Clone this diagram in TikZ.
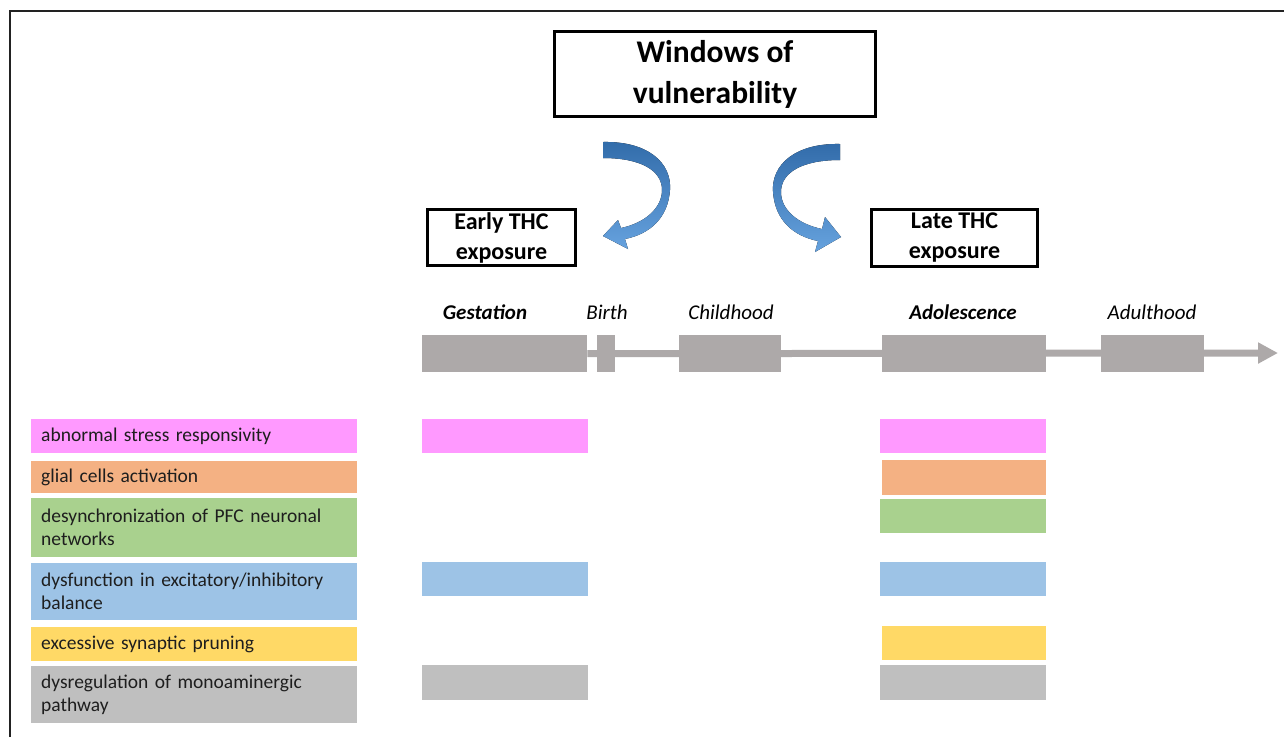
\documentclass[tikz,border=0pt]{standalone}
\usepackage{fontspec}
\setmainfont{Carlito}
\usetikzlibrary{arrows.meta}
\definecolor{framecol}{RGB}{34,34,34}
\definecolor{tlgray}{RGB}{173,169,169}
\definecolor{cpink}{RGB}{255,153,255}
\definecolor{corange}{RGB}{244,177,131}
\definecolor{cgreen}{RGB}{169,209,142}
\definecolor{cblue}{RGB}{157,195,230}
\definecolor{cyellow}{RGB}{255,217,102}
\definecolor{cgray}{RGB}{191,191,191}
\definecolor{arrowdark}{RGB}{50,108,170}
\definecolor{arrowlight}{RGB}{102,162,222}
\definecolor{textcol}{RGB}{30,30,30}
\begin{document}
\begin{tikzpicture}[x=1pt,y=-1pt,
  titlebox/.style={draw=black, line width=3pt, align=center, inner sep=0pt},
  tlbox/.style={fill=tlgray, anchor=north west, inner sep=0pt, minimum height=37pt},
  tllabel/.style={anchor=base, inner sep=0pt, font=\itshape\fontsize{21}{25}\selectfont},
  legbox/.style={anchor=north west, minimum width=326pt, text width=306pt, inner xsep=10pt, inner ysep=0pt, align=left, text=textcol, font=\fontsize{19.5}{23}\selectfont},
  bar/.style={anchor=north west, inner sep=0pt}
]
\useasboundingbox (0,0) rectangle (1285,737);
\fill[white] (0,0) rectangle (1285,737);
% frame
\draw[line width=2.5pt, color=framecol] (10,737) -- (10,11) -- (1284,11);

% title boxes
\node[titlebox, minimum width=321pt, minimum height=85pt, font=\bfseries\fontsize{31.5}{41}\selectfont] (win) at (715,74) {Windows of\\vulnerability};
\node[titlebox, minimum width=148pt, minimum height=56pt, font=\bfseries\fontsize{24}{30}\selectfont] (early) at (501.5,237.5) {Early THC\\exposure};
\node[titlebox, minimum width=166pt, minimum height=57pt, font=\bfseries\fontsize{24}{30}\selectfont] (late) at (954.5,238) {Late THC\\exposure};

% curved arrows
\fill[top color=arrowdark, bottom color=arrowlight]
  (603,142) .. controls (648,141) and (672,163) .. (670,190)
  .. controls (668,218) and (650,234) .. (625,239)
  -- (628,249) -- (603,236) -- (618,220) -- (621,228)
  .. controls (645,223) and (662,208) .. (662,190)
  .. controls (662,170) and (640,158) .. (603,158) -- cycle;
\fill[top color=arrowdark, bottom color=arrowlight]
  (840,144) .. controls (795,143) and (771,165) .. (773,192)
  .. controls (775,220) and (793,236) .. (818,241)
  -- (815,252) -- (841,237) -- (825,217) -- (822,229)
  .. controls (798,224) and (781,210) .. (781,192)
  .. controls (781,172) and (803,160) .. (840,160) -- cycle;

% timeline
\node[tlbox, minimum width=165pt] (gest) at (422,335) {};
\node[tlbox, minimum width=18pt] (birth) at (597,335) {};
\node[tlbox, minimum width=102pt] (child) at (679,335) {};
\node[tlbox, minimum width=164pt] (adol) at (882,335) {};
\node[tlbox, minimum width=103pt] (adult) at (1101,335) {};
\coordinate (tlend) at (1278,353);
\draw[tlgray, line width=7pt, -{Triangle[length=20pt,width=20pt]}] (gest.east) -- (tlend);

\node[tllabel, font=\bfseries\itshape\fontsize{21}{25}\selectfont] (lgest) at (485,319) {Gestation};
\node[tllabel] (lbirth) at (607,319) {Birth};
\node[tllabel] (lchild) at (731,319) {Childhood};
\node[tllabel, font=\bfseries\itshape\fontsize{21}{25}\selectfont] (ladol) at (963,319) {Adolescence};
\node[tllabel] (ladult) at (1152,319) {Adulthood};

% legend
\node[legbox, fill=cpink, minimum height=34pt] (l1) at (31,419) {abnormal stress responsivity};
\node[legbox, fill=corange, minimum height=32pt] (l2) at (31,461) {glial cells activation};
\node[legbox, fill=cgreen, minimum height=59pt] (l3) at (31,498) {desynchronization of PFC neuronal\\networks};
\node[legbox, fill=cblue, minimum height=57pt] (l4) at (31,563) {dysfunction in excitatory/inhibitory\\balance};
\node[legbox, fill=cyellow, minimum height=34pt] (l5) at (31,627) {excessive synaptic pruning};
\node[legbox, fill=cgray, minimum height=57pt] (l6) at (31,666) {dysregulation of monoaminergic\\pathway};

% gestation column
\node[bar, fill=cpink, minimum width=166pt, minimum height=34pt] (g1) at (422,419) {};
\node[bar, fill=cblue, minimum width=166pt, minimum height=34pt] (g4) at (422,562) {};
\node[bar, fill=cgray, minimum width=166pt, minimum height=35pt] (g6) at (422,665) {};

% adolescence column
\node[bar, fill=cpink, minimum width=166pt, minimum height=34pt] (a1) at (880,419) {};
\node[bar, fill=corange, minimum width=164pt, minimum height=35pt] (a2) at (882,460) {};
\node[bar, fill=cgreen, minimum width=166pt, minimum height=34pt] (a3) at (880,499) {};
\node[bar, fill=cblue, minimum width=166pt, minimum height=34pt] (a4) at (880,562) {};
\node[bar, fill=cyellow, minimum width=164pt, minimum height=34pt] (a5) at (882,626) {};
\node[bar, fill=cgray, minimum width=166pt, minimum height=35pt] (a6) at (880,665) {};
\end{tikzpicture}
\end{document}
